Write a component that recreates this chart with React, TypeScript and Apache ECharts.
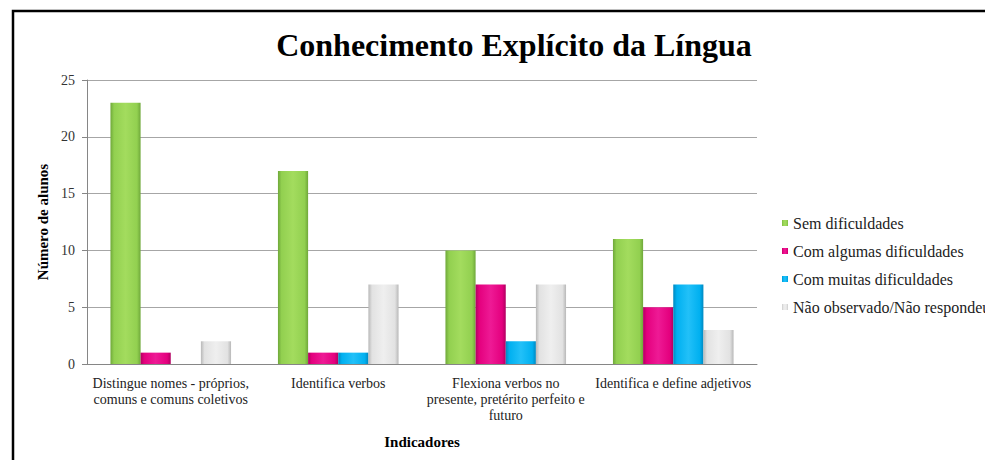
import React, { useEffect, useRef } from "react";
import * as echarts from "echarts";

const categories = [
  "Distingue nomes - próprios,\ncomuns e comuns coletivos",
  "Identifica verbos",
  "Flexiona verbos no\npresente, pretérito perfeito e\nfuturo",
  "Identifica e define adjetivos",
];
const semDificuldades = [23, 17, 10, 11];
const comAlgumas = [1, 1, 7, 5];
const comMuitas = [0, 1, 2, 7];
const naoObservado = [2, 7, 7, 3];
const seriesNames = [
  "Sem dificuldades",
  "Com algumas dificuldades",
  "Com muitas dificuldades",
  "Não observado/Não respondeu",
];
const seriesData = [semDificuldades, comAlgumas, comMuitas, naoObservado];
const baseColors = ["#92D050", "#E4007E", "#00B0F0", "#E2E2E2"];
const edgeColors = ["#6FA83A", "#B00060", "#0088C0", "#B8B8B8"];
const lightColors = ["#A3DC5E", "#EE1A95", "#22C0F8", "#EFEFEF"];

const SERIF = "Liberation Serif";

export default function App() {
  const ref = useRef<HTMLDivElement>(null);
  useEffect(() => {
    if (!ref.current) return;
    const chart = echarts.init(ref.current, undefined, { renderer: "svg" });
    const series = seriesNames.map((name, i) => ({
      name,
      type: "bar",
      data: seriesData[i],
      barGap: "0%",
      barCategoryGap: "28%",
      itemStyle: {
        color: new echarts.graphic.LinearGradient(0, 0, 1, 0, [
          { offset: 0, color: edgeColors[i] },
          { offset: 0.12, color: baseColors[i] },
          { offset: 0.5, color: lightColors[i] },
          { offset: 0.88, color: baseColors[i] },
          { offset: 1, color: edgeColors[i] },
        ]),
      },
      emphasis: { disabled: true },
    }));
    chart.setOption({
      animation: false,
      textStyle: { fontFamily: SERIF },
      title: {
        text: "Conhecimento Explícito da Língua",
        left: 509,
        textAlign: "center",
        top: 24,
        textStyle: {
          fontFamily: SERIF,
          fontWeight: "bold",
          fontSize: 32,
          color: "#000",
        },
      },
      graphic: [
        {
          type: "rect",
          shape: { x: 13, y: 11, width: 1000, height: 480 },
          style: { fill: "none", stroke: "#000", lineWidth: 2.5 },
          silent: true,
        },
      ],
      legend: {
        orient: "vertical",
        left: 777,
        top: 210,
        icon: "rect",
        itemWidth: 6,
        itemHeight: 6,
        itemGap: 12,
        textStyle: {
          fontFamily: SERIF,
          fontWeight: "normal",
          fontSize: 16,
          color: "#222",
        },
        data: seriesNames,
      },
      grid: { left: 87, right: 228, top: 80, bottom: 96 },
      xAxis: {
        type: "category",
        data: categories,
        name: "Indicadores",
        nameLocation: "middle",
        nameGap: 70,
        nameTextStyle: {
          fontFamily: SERIF,
          fontWeight: "bold",
          fontSize: 15,
          color: "#000",
        },
        axisLine: { lineStyle: { color: "#868686" } },
        axisTick: { length: 5, lineStyle: { color: "#868686" } },
        axisLabel: {
          interval: 0,
          fontFamily: SERIF,
          fontWeight: "normal",
          fontSize: 14,
          lineHeight: 16,
          color: "#222",
          margin: 11,
        },
      },
      yAxis: {
        type: "value",
        min: 0,
        max: 25,
        interval: 5,
        name: "Número de alunos",
        nameLocation: "middle",
        nameGap: 36,
        nameTextStyle: {
          fontFamily: SERIF,
          fontWeight: "bold",
          fontSize: 15,
          color: "#000",
        },
        axisLine: { show: true, lineStyle: { color: "#868686" } },
        axisTick: { show: true, length: 5, lineStyle: { color: "#868686" } },
        axisLabel: {
          fontFamily: SERIF,
          fontSize: 14,
          color: "#333",
          margin: 12,
        },
        splitLine: { lineStyle: { color: "#A6A6A6", width: 1.2 } },
      },
      series,
    });
    return () => chart.dispose();
  }, []);
  return (
    <div
      ref={ref}
      style={{ position: "absolute", left: 0, top: 0, width: 985, height: 460, background: "#fff" }}
    />
  );
}
